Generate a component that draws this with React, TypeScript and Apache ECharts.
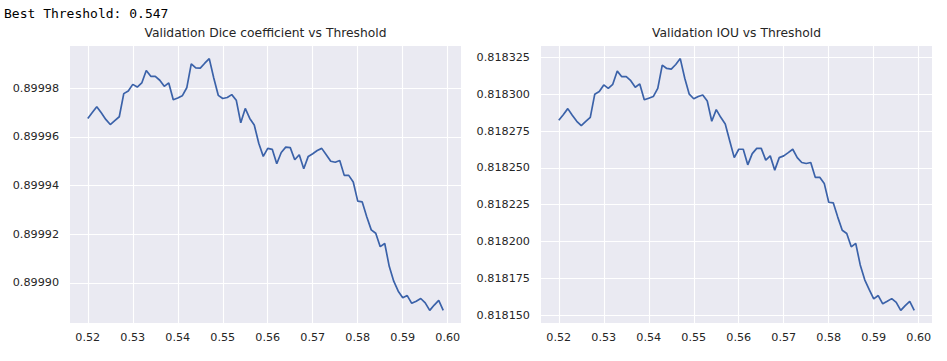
import React, { useEffect, useRef } from 'react';
import * as echarts from 'echarts';

const thresholds = [
  0.520, 0.521, 0.522, 0.523, 0.524, 0.525, 0.526, 0.527, 0.528, 0.529,
  0.530, 0.531, 0.532, 0.533, 0.534, 0.535, 0.536, 0.537, 0.538, 0.539,
  0.540, 0.541, 0.542, 0.543, 0.544, 0.545, 0.546, 0.547, 0.548, 0.549,
  0.550, 0.551, 0.552, 0.553, 0.554, 0.555, 0.556, 0.557, 0.558, 0.559,
  0.560, 0.561, 0.562, 0.563, 0.564, 0.565, 0.566, 0.567, 0.568, 0.569,
  0.570, 0.571, 0.572, 0.573, 0.574, 0.575, 0.576, 0.577, 0.578, 0.579,
  0.580, 0.581, 0.582, 0.583, 0.584, 0.585, 0.586, 0.587, 0.588, 0.589,
  0.590, 0.591, 0.592, 0.593, 0.594, 0.595, 0.596, 0.597, 0.598, 0.599,
];

const diceValues = [
  0.8999676, 0.8999700, 0.8999724, 0.8999699, 0.8999672, 0.8999651, 0.8999667, 0.8999683, 0.8999778, 0.8999789,
  0.8999816, 0.8999805, 0.8999822, 0.8999873, 0.8999849, 0.8999849, 0.8999833, 0.8999808, 0.8999822, 0.8999753,
  0.8999760, 0.8999769, 0.8999802, 0.8999900, 0.8999884, 0.8999883, 0.8999903, 0.8999922, 0.8999842, 0.8999771,
  0.8999758, 0.8999762, 0.8999774, 0.8999751, 0.8999658, 0.8999717, 0.8999676, 0.8999649, 0.8999574, 0.8999520,
  0.8999553, 0.8999549, 0.8999490, 0.8999536, 0.8999558, 0.8999556, 0.8999506, 0.8999527, 0.8999469, 0.8999520,
  0.8999531, 0.8999544, 0.8999553, 0.8999527, 0.8999500, 0.8999496, 0.8999503, 0.8999442, 0.8999442, 0.8999415,
  0.8999336, 0.8999333, 0.8999272, 0.8999218, 0.8999204, 0.8999149, 0.8999162, 0.8999068, 0.8999007, 0.8998966,
  0.8998939, 0.8998948, 0.8998916, 0.8998925, 0.8998936, 0.8998918, 0.8998887, 0.8998909, 0.8998928, 0.8998887,
];

const iouValues = [
  0.8182824, 0.8182862, 0.8182903, 0.8182858, 0.8182817, 0.8182788, 0.8182817, 0.8182844, 0.8183001, 0.8183019,
  0.8183064, 0.8183041, 0.8183068, 0.8183158, 0.8183120, 0.8183120, 0.8183093, 0.8183048, 0.8183071, 0.8182963,
  0.8182974, 0.8182985, 0.8183041, 0.8183199, 0.8183176, 0.8183172, 0.8183203, 0.8183243, 0.8183109, 0.8183001,
  0.8182970, 0.8182985, 0.8182996, 0.8182955, 0.8182817, 0.8182896, 0.8182844, 0.8182799, 0.8182683, 0.8182570,
  0.8182627, 0.8182627, 0.8182521, 0.8182597, 0.8182633, 0.8182633, 0.8182553, 0.8182582, 0.8182485, 0.8182570,
  0.8182582, 0.8182604, 0.8182627, 0.8182570, 0.8182537, 0.8182530, 0.8182537, 0.8182436, 0.8182436, 0.8182395,
  0.8182267, 0.8182263, 0.8182166, 0.8182077, 0.8182055, 0.8181964, 0.8181987, 0.8181841, 0.8181740, 0.8181673,
  0.8181610, 0.8181633, 0.8181577, 0.8181594, 0.8181612, 0.8181587, 0.8181532, 0.8181565, 0.8181594, 0.8181532,
];

const xTicks = [0.52, 0.53, 0.54, 0.55, 0.56, 0.57, 0.58, 0.59, 0.6];
const diceTicks = [0.8999, 0.89992, 0.89994, 0.89996, 0.89998];
const iouTicks = [0.81815, 0.818175, 0.8182, 0.818225, 0.81825, 0.818275, 0.8183, 0.818325];

const bestThresholdText = 'Best Threshold: 0.547';
const diceTitle = 'Validation Dice coefficient vs Threshold';
const iouTitle = 'Validation IOU vs Threshold';

function padded(values: number[]): [number, number] {
  let lo = Infinity;
  let hi = -Infinity;
  values.forEach((v) => {
    if (v < lo) lo = v;
    if (v > hi) hi = v;
  });
  const m = (hi - lo) * 0.05;
  return [lo - m, hi + m];
}

export default function App() {
  const ref = useRef<HTMLDivElement>(null);

  useEffect(() => {
    if (!ref.current) return;
    const chart = echarts.init(ref.current, undefined, { renderer: 'svg' });
    const [xMin, xMax] = padded(thresholds);
    const [dMin, dMax] = padded(diceValues);
    const [iMin, iMax] = padded(iouValues);
    const textColor = '#262626';
    const font = 'DejaVu Sans';
    const lineColor = '#3b62a9';

    const xAxisBase = (gridIndex: number) => ({
      type: 'value' as const,
      gridIndex,
      min: xMin,
      max: xMax,
      axisLine: { show: false },
      axisTick: { show: false, customValues: xTicks },
      axisLabel: {
        customValues: xTicks,
        formatter: (v: number) => v.toFixed(2),
        color: textColor,
        fontFamily: font,
        fontSize: 11.2,
        margin: 9,
      },
      splitLine: { show: true, lineStyle: { color: '#ffffff', width: 1.1 } },
    });

    const yAxisBase = (gridIndex: number, min: number, max: number, ticks: number[], digits: number) => ({
      type: 'value' as const,
      gridIndex,
      min,
      max,
      scale: true,
      axisLine: { show: false },
      axisTick: { show: false, customValues: ticks },
      axisLabel: {
        customValues: ticks,
        formatter: (v: number) => v.toFixed(digits),
        color: textColor,
        fontFamily: font,
        fontSize: 11.2,
        margin: 11,
      },
      splitLine: { show: true, lineStyle: { color: '#ffffff', width: 1.1 } },
    });

    chart.setOption({
      animation: false,
      backgroundColor: '#ffffff',
      title: [
        {
          text: diceTitle,
          left: 265.5,
          top: 27,
          textAlign: 'center',
          padding: 0,
          textStyle: { color: textColor, fontFamily: font, fontSize: 12.3, fontWeight: 'normal' },
        },
        {
          text: iouTitle,
          left: 736.5,
          top: 27,
          textAlign: 'center',
          padding: 0,
          textStyle: { color: textColor, fontFamily: font, fontSize: 12.3, fontWeight: 'normal' },
        },
        {
          text: bestThresholdText,
          left: 4,
          top: 6.5,
          padding: 0,
          textStyle: { color: '#000000', fontFamily: 'DejaVu Sans Mono', fontSize: 13, fontWeight: 'normal' },
        },
      ],
      grid: [
        { left: 70, top: 46, width: 391, height: 277, show: true, backgroundColor: '#EAEAF2', borderWidth: 0 },
        { left: 541, top: 46, width: 391, height: 277, show: true, backgroundColor: '#EAEAF2', borderWidth: 0 },
      ],
      xAxis: [xAxisBase(0), xAxisBase(1)],
      yAxis: [
        yAxisBase(0, dMin, dMax, diceTicks, 5),
        yAxisBase(1, iMin, iMax, iouTicks, 6),
      ],
      series: [
        {
          type: 'line',
          xAxisIndex: 0,
          yAxisIndex: 0,
          data: thresholds.map((t, i) => [t, diceValues[i]]),
          showSymbol: false,
          symbol: 'none',
          lineStyle: { color: lineColor, width: 1.7 },
        },
        {
          type: 'line',
          xAxisIndex: 1,
          yAxisIndex: 1,
          data: thresholds.map((t, i) => [t, iouValues[i]]),
          showSymbol: false,
          symbol: 'none',
          lineStyle: { color: lineColor, width: 1.7 },
        },
      ],
    });

    return () => chart.dispose();
  }, []);

  return (
    <div
      ref={ref}
      style={{ position: 'fixed', left: 0, top: 0, width: 947, height: 361, background: '#ffffff' }}
    />
  );
}
